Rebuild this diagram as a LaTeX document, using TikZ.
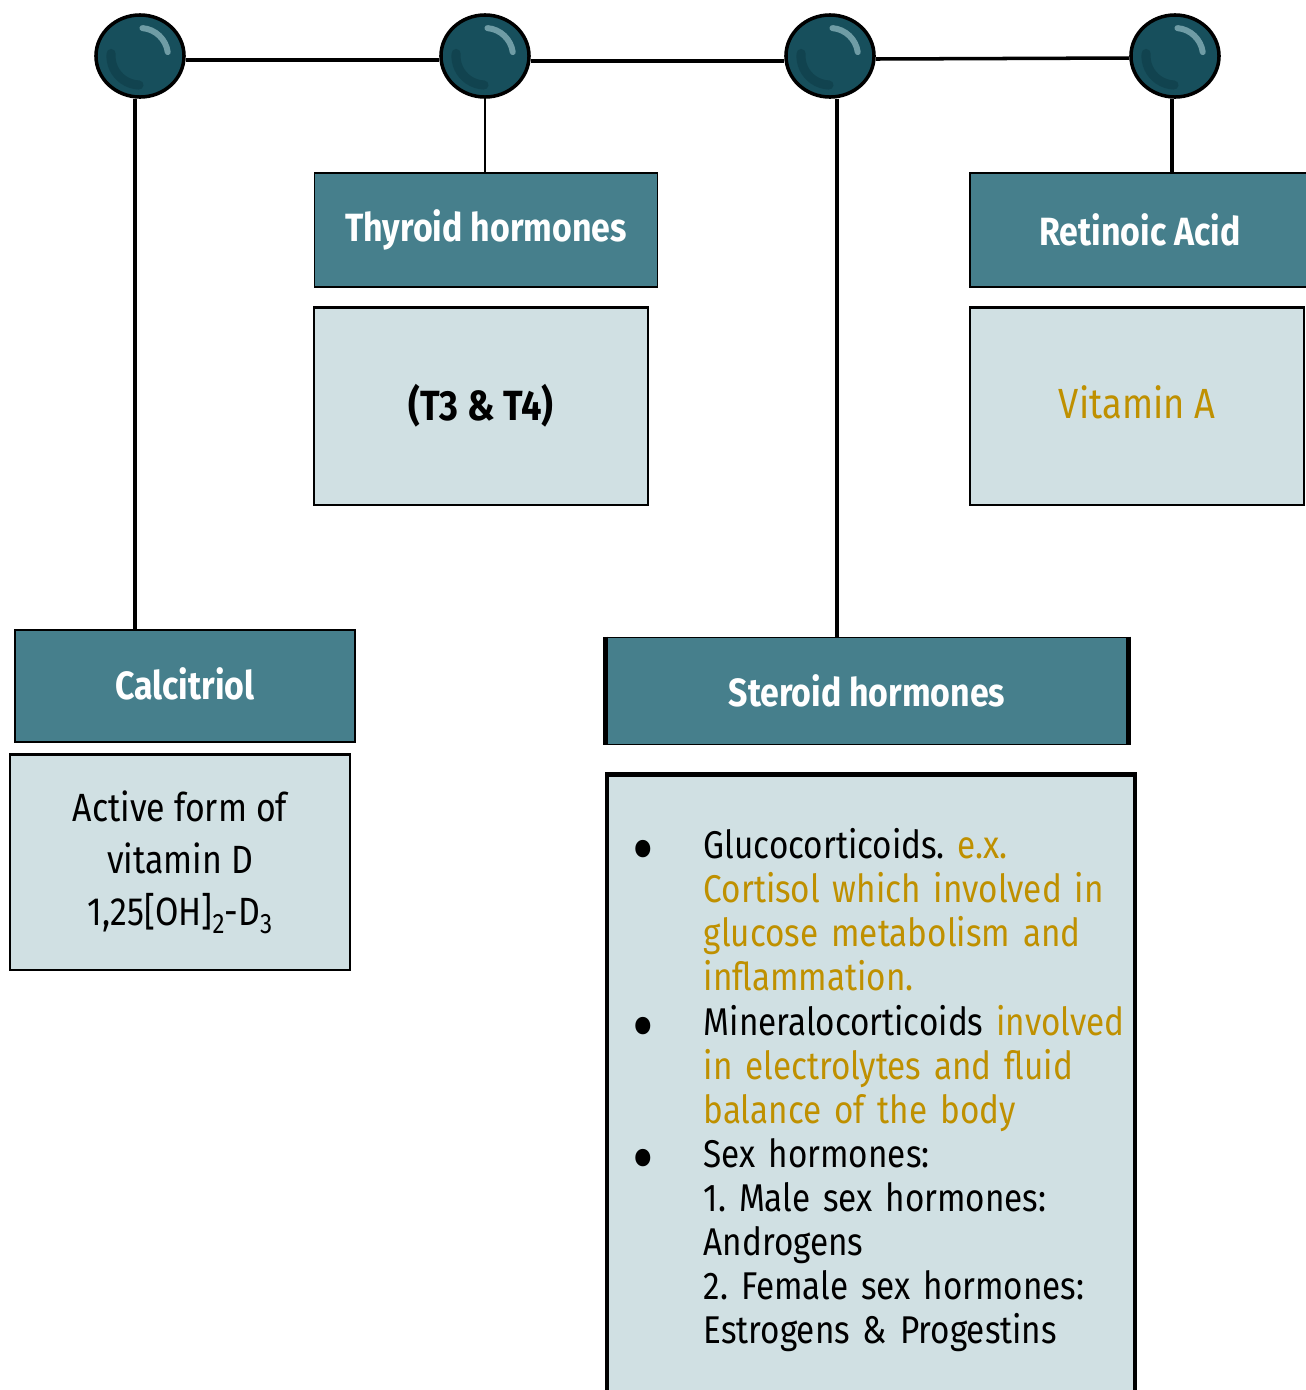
\documentclass[tikz,border=0pt]{standalone}
\usepackage{fontspec}
\setmainfont[FakeStretch=0.86]{Fira Sans}
\usetikzlibrary{shapes.geometric}

\definecolor{beadfill}{HTML}{174F5C}
\definecolor{beadlight}{HTML}{6F9CA5}
\definecolor{beaddark}{HTML}{11434F}
\definecolor{headfill}{HTML}{467F8C}
\definecolor{bodyfill}{HTML}{D0E0E3}
\definecolor{gold}{HTML}{BF9000}

\newcommand\steroiditem{\leavevmode\llap{\makebox[0.73cm][l]{\hspace{0.02cm}\smash{\raisebox{-0.17cm}{\fontsize{22}{0}\selectfont\textbullet}}}}}

\begin{document}
\begin{tikzpicture}[
        x=0.01cm, y=0.01cm,
        bead/.style={ellipse, draw, line width=1pt, fill=beadfill,
                     minimum width=0.88cm, minimum height=0.82cm, inner sep=0pt},
        head/.style={draw, line width=0.5pt, fill=headfill, text=white,
                     font=\fontsize{11.2}{13}\selectfont\bfseries, inner sep=0pt},
        body/.style={draw, line width=0.6pt, fill=bodyfill, inner sep=0pt,
                     font=\fontsize{11.2}{13}\selectfont},
        wire/.style={line width=1pt},
    ]
    \useasboundingbox (0,0) rectangle (1306,-1390);
    \clip (0,0) rectangle (1306,-1390);

    % beads on the top string
    \node[bead] (c1) at (140,-56) {};
    \node[bead] (c2) at (485,-56) {};
    \node[bead] (c3) at (830,-56) {};
    \node[bead] (c4) at (1175,-56) {};
    \foreach \n in {c1,c2,c3,c4} {
        \draw[beaddark, line width=2.6pt, line cap=round]
            (\n.center) ++(175:0.29cm) arc[start angle=175, end angle=268, radius=0.29cm];
        \draw[beadlight, line width=1.7pt, line cap=round]
            (\n.center) ++(85:0.28cm) arc[start angle=85, end angle=8, radius=0.28cm];
    }
    \draw[wire] ([yshift=-0.04cm]c1.east) -- ([yshift=-0.04cm]c2.west);
    \draw[wire] ([yshift=-0.05cm]c2.east) -- ([yshift=-0.05cm]c3.west);
    \draw[wire] ([yshift=-0.03cm]c3.east) -- ([yshift=-0.02cm]c4.west);

    % boxes
    \node[head, minimum width=3.43cm, minimum height=1.14cm] (thyroid) at (486,-230) {Thyroid hormones};
    \node[body, minimum width=3.33cm, minimum height=1.97cm, font=\fontsize{12}{14}\selectfont\bfseries]
        (thyroidbody) at (481,-406) {\raisebox{0.08cm}{(T3 \& T4)}};

    \node[head, minimum width=3.40cm, minimum height=1.14cm] (retinoic) at (1140,-230) {Retinoic Acid};
    \node[body, minimum width=3.33cm, minimum height=1.97cm, text=gold, font=\fontsize{12}{14}\selectfont]
        (retinoicbody) at (1137,-406) {\raisebox{0.08cm}{Vitamin A}};

    \node[head, minimum width=3.40cm, minimum height=1.12cm] (calcitriol) at (185,-686) {\raisebox{0.04cm}{Calcitriol}};
    \node[body, minimum width=3.40cm, minimum height=2.15cm, align=center,
          font=\fontsize{11.2}{14.8}\selectfont]
        (calcitriolbody) at (180,-862) {Active form of\\vitamin D\\1,25[OH]\raisebox{-0.08cm}{\footnotesize 2}-D\raisebox{-0.08cm}{\footnotesize 3}};

    \node[head, minimum width=5.21cm, minimum height=1.07cm] (steroid) at (867,-691) {Steroid hormones};
    \draw[line width=1.3pt] (steroid.north west) -- (steroid.south west);
    \draw[line width=1.3pt] (steroid.north east) -- (steroid.south east);
    \node[body, line width=1.3pt, minimum width=5.28cm, minimum height=7cm, anchor=north]
        (steroidbody) at (871,-772) {};
    \node[anchor=north west, inner sep=0pt, text width=5.2cm, align=left,
          font=\fontsize{11}{12.52}\selectfont] (steroidtext) at (630,-828) {%
        \raggedright\frenchspacing\leftskip=0.73cm\parindent=0pt
        \steroiditem Glucocorticoids. {\color{gold}e.x.\\
        Cortisol which involved in\\
        glucose metabolism and\\
        inflammation.}\par
        \steroiditem Mineralocorticoids {\color{gold}involved\\
        in electrolytes and fluid\\
        balance of the body}\par
        \steroiditem Sex hormones:\\
        1. Male sex hormones:\\
        Androgens\\
        2. Female sex hormones:\\
        Estrogens \& Progestins\par};

    % strings down to the boxes
    \draw[wire] ([xshift=-0.05cm]c1.south) -- ([xshift=-0.05cm]c1.south |- calcitriol.north);
    \draw[line width=0.45pt] (c2.south) -- (c2.south |- thyroid.north);
    \draw[wire] ([xshift=0.07cm]c3.south) -- ([xshift=0.07cm]c3.south |- steroid.north);
    \draw[wire] ([xshift=-0.03cm]c4.south) -- ([xshift=-0.03cm]c4.south |- retinoic.north);
\end{tikzpicture}
\end{document}
